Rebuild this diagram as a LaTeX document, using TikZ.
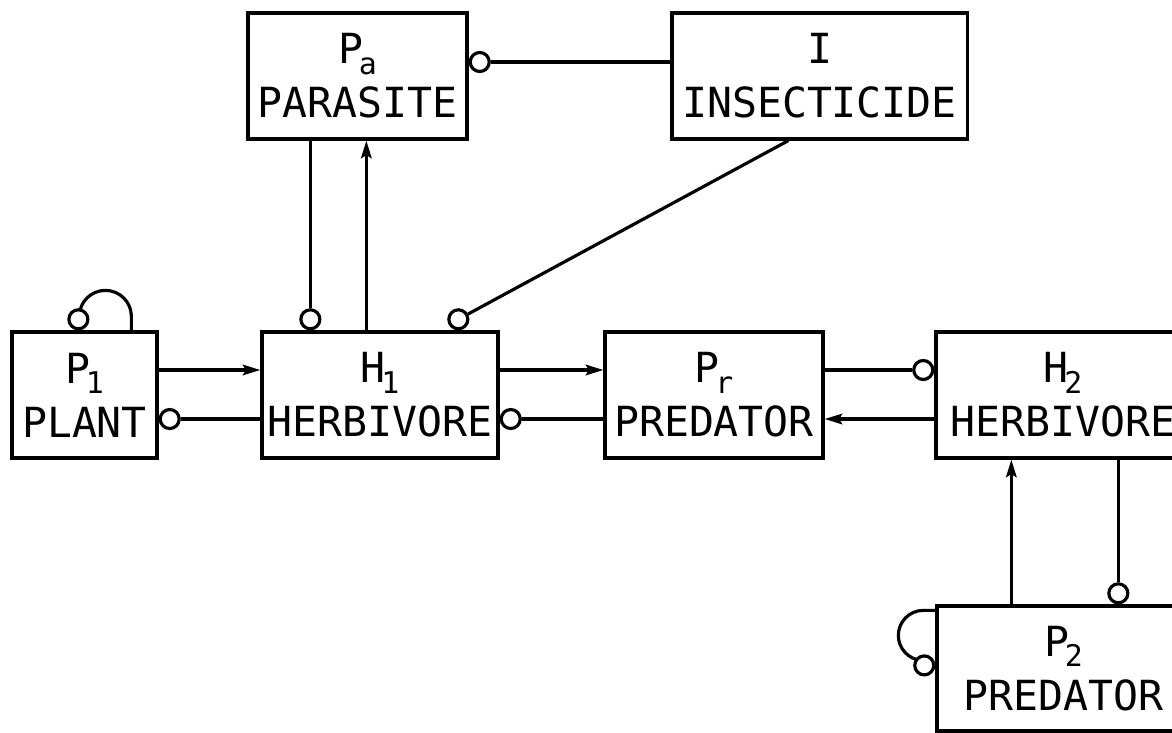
\documentclass[tikz,border=0pt]{standalone}
\usepackage{fontspec}
\setmonofont{DejaVu Sans Mono}
\usetikzlibrary{arrows.meta,calc}
\newcommand\mysub[1]{\kern-1.2pt\raisebox{-3pt}{\fontsize{8.5}{8.5}\selectfont #1}}
\begin{document}
\begin{tikzpicture}[x=0.01cm,y=0.01cm,
  box/.style={draw, line width=0.9pt, minimum height=1.26cm, inner sep=0pt, align=center,
    font=\ttfamily\fontsize{11.8}{15.4}\selectfont},
  dot/.style={circle, draw, fill=white, line width=0.9pt, minimum size=0.19cm, inner sep=0pt},
  conn/.style={line width=0.9pt},
  arr/.style={-{Stealth[length=5pt,width=3pt,inset=0.9pt]}}]
\useasboundingbox (0,0) rectangle (1172,732);
\clip (0,0) rectangle (1172,732);

% boxes
\node[box, minimum width=1.45cm] (p1) at (84.5,337) {P\mysub{1}\\PLANT};
\node[box, minimum width=2.36cm] (h1) at (380,337) {H\mysub{1}\\HERBIVORE};
\node[box, minimum width=2.18cm] (pr) at (714,337) {P\mysub{r}\\PREDATOR};
\node[box, minimum width=2.54cm] (h2) at (1063,337) {H\mysub{2}\\HERBIVORE};
\node[box, minimum width=2.19cm] (pa) at (357.5,656) {P\mysub{a}\\PARASITE};
\node[box, minimum width=2.95cm] (ins) at (819.5,656) {I\\INSECTICIDE};
\node[box, minimum width=2.53cm, minimum height=1.25cm] (p2) at (1063.5,63.5) {P\mysub{2}\\PREDATOR};

% horizontal row connectors
\draw[conn,arr] ([yshift=0.25cm]p1.east) -- ([yshift=0.25cm]h1.west);
\node[dot, anchor=west] (c1) at ([yshift=-0.24cm]p1.east) {};
\draw[conn] ([yshift=-0.24cm]h1.west) -- (c1);
\draw[conn,arr] ([yshift=0.25cm]h1.east) -- ([yshift=0.25cm]pr.west);
\node[dot, anchor=west] (c2) at ([yshift=-0.24cm]h1.east) {};
\draw[conn] ([yshift=-0.24cm]pr.west) -- (c2);
\node[dot, anchor=east] (c3) at ([yshift=0.25cm]h2.west) {};
\draw[conn] ([yshift=0.25cm]pr.east) -- (c3);
\draw[conn,arr] ([yshift=-0.24cm]h2.west) -- ([yshift=-0.24cm]pr.east);

% parasite <-> herbivore 1
\node[dot, anchor=south] (c4) at ($(h1.north west)+(50,0)$) {};
\draw[conn] (c4 |- pa.south) -- (c4);
\coordinate (u) at ($(h1.north west)+(106,0)$);
\draw[conn,arr] (u) -- (u |- pa.south);

% insecticide -> parasite
\node[dot, anchor=west] (c5) at ([yshift=0.14cm]pa.east) {};
\draw[conn] (ins.west |- c5) -- (c5);

% insecticide -> herbivore 1
\node[dot, anchor=south] (c6) at ($(h1.north west)+(198,0)$) {};
\coordinate (d) at ($(ins.south west)+(118,0)$);
\draw[conn] (d) -- (c6);

% herbivore 2 <-> predator 2
\coordinate (v) at ($(p2.north west)+(76,0)$);
\draw[conn,arr] (v) -- (v |- h2.south);
\node[dot, anchor=south] (c7) at ($(p2.north west)+(183,0)$) {};
\draw[conn] (c7 |- h2.south) -- (c7);

% self loops
\draw[conn] ($(p1.north west)+(121,0)$) -- ++(0,14) arc[start angle=0, end angle=180, radius=0.26cm];
\node[dot, anchor=south] (c8) at ($(p1.north west)+(68,0)$) {};
\draw[conn] ($(p2.north west)+(0,-6)$) -- ++(-12,0) arc[start angle=90, end angle=265, radius=0.25cm];
\node[dot, anchor=east] (c9) at ($(p2.north west)+(0,-61)$) {};
\end{tikzpicture}
\end{document}
